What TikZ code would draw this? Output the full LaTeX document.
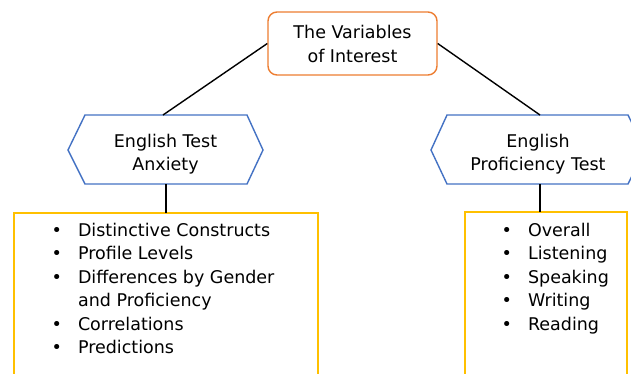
\documentclass[tikz,border=0pt]{standalone}
\usepackage{fontspec}
\setmainfont{DejaVu Sans}
\definecolor{hexblue}{HTML}{4472C4}
\definecolor{toporange}{HTML}{ED7D31}
\definecolor{boxyellow}{HTML}{FFC000}
\begin{document}
\begin{tikzpicture}[x=1pt,y=-1pt,
  txt/.style={font=\fontsize{17.5}{23.5}\selectfont, inner sep=0pt},
  topbox/.style={draw=toporange, line width=1.4pt, rounded corners=9pt, align=center,
     minimum width=169pt, minimum height=63pt, font=\fontsize{17.5}{24}\selectfont},
  hexa/.style={draw=hexblue, line width=1.4pt},
  ybox/.style={draw=boxyellow, line width=1.5pt},
  conn/.style={draw=black, line width=1.4pt}]
\useasboundingbox (0,0) rectangle (631,373);
\clip (0,0) rectangle (631,373);
\fill[white] (0,0) rectangle (631,373);

% top node
\node[topbox] (top) at (352.5,43.5) {The Variables\\of Interest};

% hexagons
\draw[hexa] (68,150) -- (85,115) -- (247,115) -- (263,150) -- (247,184) -- (85,184) -- cycle;
\draw[hexa] (431,150) -- (447,115) -- (628,115) -- (645,150) -- (628,184) -- (447,184) -- cycle;
\coordinate (hexLtop) at (163,115);
\coordinate (hexRtop) at (540,115);
\coordinate (hexLbot) at (166,184);
\coordinate (hexRbot) at (540,184);

\node[txt, anchor=base] (hexLtext) at (165.5,147)
  {\begin{tabular}[t]{@{}c@{}}English Test\\Anxiety\end{tabular}};
\node[txt, anchor=base] (hexRtext) at (538,147)
  {\begin{tabular}[t]{@{}c@{}}English\\Proficiency Test\end{tabular}};

% boxes
\draw[ybox] (14,213) rectangle (318,385);
\draw[ybox] (465,212) rectangle (627,385);
\coordinate (boxLtop) at (166,213);
\coordinate (boxRtop) at (540,212);

% lists
\node[txt, anchor=base west] (listL) at (51.5,236)
  {\begin{tabular}[t]{@{}l@{\hspace{16pt}}l@{}}
   \textbullet & Distinctive Constructs\\
   \textbullet & Profile Levels\\
   \textbullet & Differences by Gender\\
               & and Proficiency\\
   \textbullet & Correlations\\
   \textbullet & Predictions
   \end{tabular}};
\node[txt, anchor=base west] (listR) at (501.5,236)
  {\begin{tabular}[t]{@{}l@{\hspace{16pt}}l@{}}
   \textbullet & Overall\\
   \textbullet & Listening\\
   \textbullet & Speaking\\
   \textbullet & Writing\\
   \textbullet & Reading
   \end{tabular}};

% connectors
\draw[conn] (top.west) -- (hexLtop);
\draw[conn] (top.east) -- (hexRtop);
\draw[conn] (hexLbot) -- (boxLtop);
\draw[conn] (hexRbot) -- (boxRtop);
\end{tikzpicture}
\end{document}
